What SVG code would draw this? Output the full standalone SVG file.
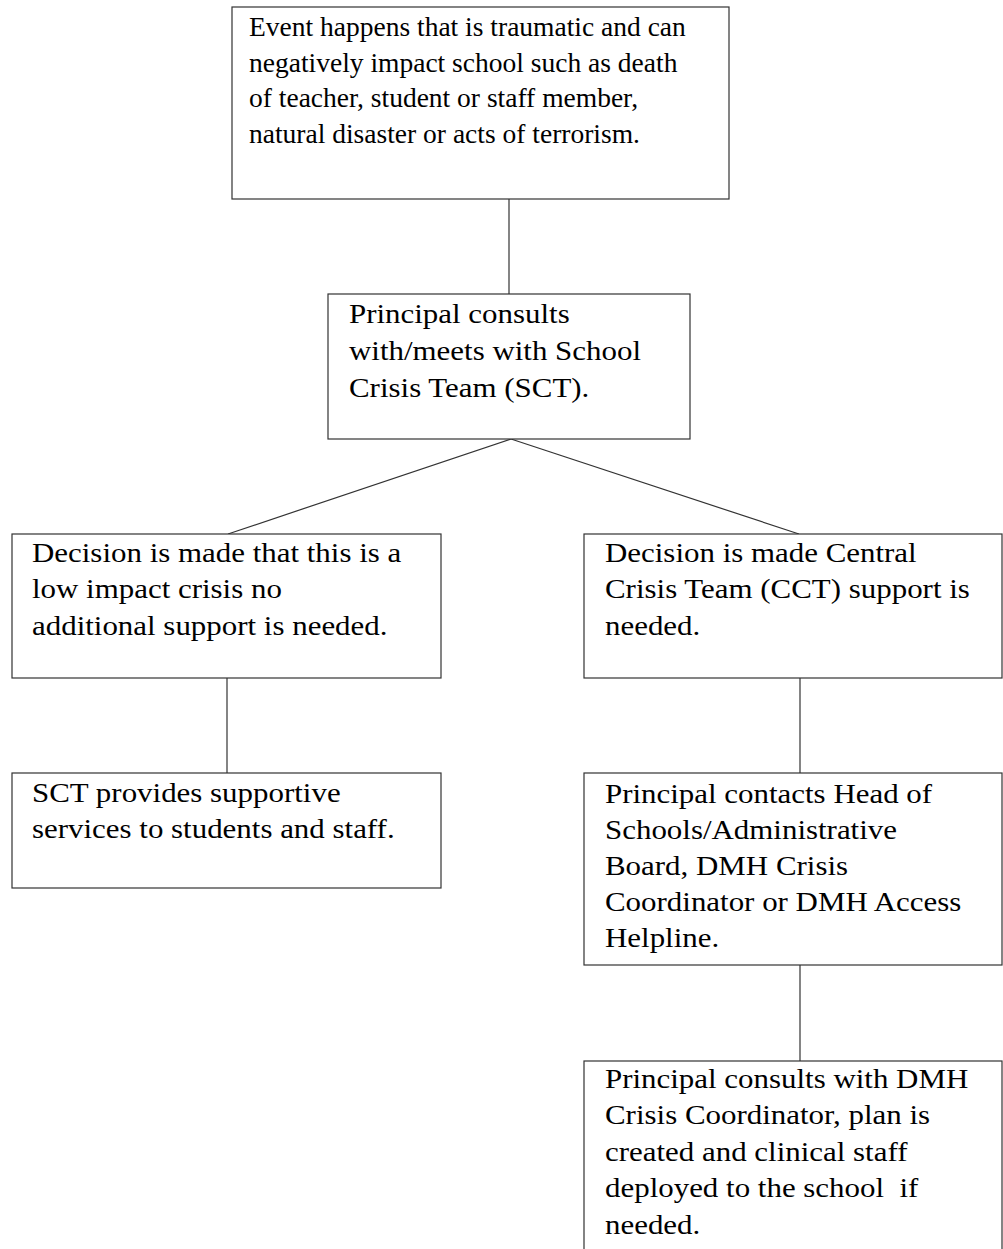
<svg xmlns="http://www.w3.org/2000/svg" width="1003" height="1249" viewBox="0 0 1003 1249">
<style>
  .box { fill: #ffffff; stroke: #333333; stroke-width: 1.2; }
  .conn { fill: none; stroke: #333333; stroke-width: 1.2; }
  .t { font-family: "Liberation Serif", "Times New Roman", serif; font-size: 27.5px; fill: #000000; }
</style>
<rect x="0" y="0" width="1003" height="1249" fill="#ffffff"/>
<g id="connectors">
  <line class="conn" x1="509" y1="199" x2="509" y2="294"/>
  <line class="conn" x1="511" y1="439" x2="228" y2="534"/>
  <line class="conn" x1="511" y1="439" x2="799" y2="534"/>
  <line class="conn" x1="227" y1="678" x2="227" y2="773"/>
  <line class="conn" x1="800" y1="678" x2="800" y2="773"/>
  <line class="conn" x1="800" y1="965" x2="800" y2="1061"/>
</g>
<g id="node-event">
  <rect class="box" x="232" y="7" width="497" height="192"/>
  <text class="t" x="249" y="36">
    <tspan x="249" y="36">Event happens that is traumatic and can</tspan>
    <tspan x="249" y="71.7">negatively impact school such as death</tspan>
    <tspan x="249" y="107.4">of teacher, student or staff member,</tspan>
    <tspan x="249" y="143.1">natural disaster or acts of terrorism.</tspan>
  </text>
</g>
<g id="node-principal">
  <rect class="box" x="328" y="294" width="362" height="145"/>
  <g transform="translate(349 0) scale(1.125 1)">
    <text class="t">
      <tspan x="0" y="323">Principal consults</tspan>
      <tspan x="0" y="360">with/meets with School</tspan>
      <tspan x="0" y="397">Crisis Team (SCT).</tspan>
    </text>
  </g>
</g>
<g id="node-low-impact">
  <rect class="box" x="12" y="534" width="429" height="144"/>
  <g transform="translate(32 0) scale(1.125 1)">
    <text class="t">
      <tspan x="0" y="562">Decision is made that this is a</tspan>
      <tspan x="0" y="598.5">low impact crisis no</tspan>
      <tspan x="0" y="635">additional support is needed.</tspan>
    </text>
  </g>
</g>
<g id="node-cct">
  <rect class="box" x="584" y="534" width="418" height="144"/>
  <g transform="translate(605 0) scale(1.125 1)">
    <text class="t">
      <tspan x="0" y="562">Decision is made Central</tspan>
      <tspan x="0" y="598.5">Crisis Team (CCT) support is</tspan>
      <tspan x="0" y="635">needed.</tspan>
    </text>
  </g>
</g>
<g id="node-sct-services">
  <rect class="box" x="12" y="773" width="429" height="115"/>
  <g transform="translate(32 0) scale(1.125 1)">
    <text class="t">
      <tspan x="0" y="802">SCT provides supportive</tspan>
      <tspan x="0" y="838">services to students and staff.</tspan>
    </text>
  </g>
</g>
<g id="node-contacts">
  <rect class="box" x="584" y="773" width="418" height="192"/>
  <g transform="translate(605 0) scale(1.125 1)">
    <text class="t">
      <tspan x="0" y="803">Principal contacts Head of</tspan>
      <tspan x="0" y="839">Schools/Administrative</tspan>
      <tspan x="0" y="875">Board, DMH Crisis</tspan>
      <tspan x="0" y="911">Coordinator or DMH Access</tspan>
      <tspan x="0" y="947">Helpline.</tspan>
    </text>
  </g>
</g>
<g id="node-consults-dmh">
  <rect class="box" x="584" y="1061" width="418" height="220"/>
  <g transform="translate(605 0) scale(1.125 1)">
    <text class="t">
      <tspan x="0" y="1088">Principal consults with DMH</tspan>
      <tspan x="0" y="1124.5">Crisis Coordinator, plan is</tspan>
      <tspan x="0" y="1161">created and clinical staff</tspan>
      <tspan x="0" y="1197.5">deployed to the school&#160; if</tspan>
      <tspan x="0" y="1234">needed.</tspan>
    </text>
  </g>
</g>
</svg>
